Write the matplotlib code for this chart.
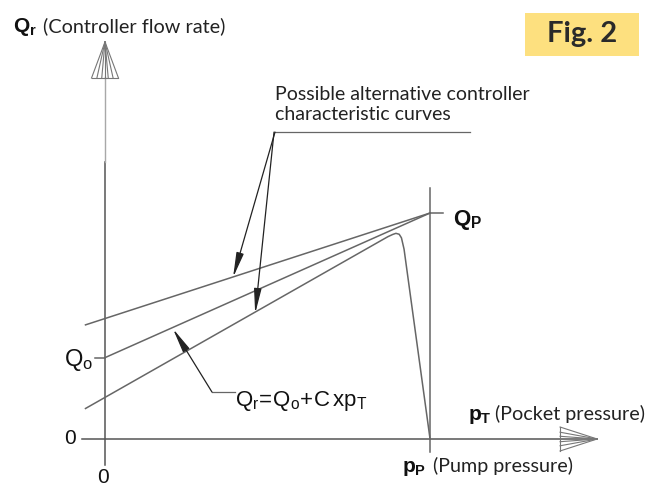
from matplotlib import pyplot as plt
from matplotlib.patches import Rectangle
import numpy as np

plt.rcParams['mathtext.fontset'] = 'custom'
plt.rcParams['mathtext.rm'] = 'Liberation Sans'
plt.rcParams['mathtext.bf'] = 'Liberation Sans:bold'
plt.rcParams['mathtext.it'] = 'Liberation Sans'

# characteristic curves (x = pocket pressure, y = flow rate; pP = 10, Qp = 10)
q0 = 3.6
top_x = [-0.6, 10]
top_y = [5.05, 10]
mid_x = [0, 10]
mid_y = [q0, 10]
bot_x = [-0.6, 8.7, 8.85, 8.95, 9.05, 9.12, 9.2, 10]
bot_y = [1.35, 8.95, 9.05, 9.1, 9.06, 8.9, 8.4, 0]

line_c = '#666666'
axis_c = '#555555'
narrow = ['Liberation Sans', 'DejaVu Sans']
humanist = ['Lato', 'DejaVu Sans']

fig = plt.figure(figsize=(6.55, 4.87), dpi=100)
ax = fig.add_axes([0, 0, 1, 1])
ax.set_xlim(-3.23, 16.92)
ax.set_ylim(-2.124, 19.425)
ax.axis('off')

# axes lines
ax.plot([-0.71, 15.14], [0, 0], color=axis_c, lw=1.1)
ax.plot([0, 0], [-1.15, 12.26], color=axis_c, lw=1.1)
ax.plot([0, 0], [12.26, 16.0], color='#a8a8a8', lw=1.0)

# y arrow head (fan of lines)
for dx in [-0.415, -0.25, -0.1, 0.1, 0.25, 0.415]:
    ax.plot([dx, 0], [15.97, 17.57], color='#777777', lw=0.8)
ax.plot([-0.415, 0.415], [15.97, 15.97], color='#777777', lw=0.8)
ax.plot([0, 0], [15.97, 17.57], color='#777777', lw=0.8)

# x arrow head
for dy in [-0.53, -0.3, -0.12, 0.12, 0.3, 0.53]:
    ax.plot([14.0, 15.14], [dy, 0], color='#777777', lw=0.8)
ax.plot([14.0, 14.0], [-0.53, 0.53], color='#777777', lw=0.8)

# pump pressure vertical and ticks
ax.plot([10, 10], [-0.575, 11.1], color=line_c, lw=1.1)
ax.plot([10, 10.4], [10, 10], color=line_c, lw=1.1)
ax.plot([-0.31, 0], [q0, q0], color=line_c, lw=1.1)

# curves
ax.plot(top_x, top_y, color=line_c, lw=1.1)
ax.plot(mid_x, mid_y, color=line_c, lw=1.1)
ax.plot(bot_x, bot_y, color=line_c, lw=1.1)

# leader for "possible alternative..." text
arr = dict(arrowstyle='-|>,head_length=1.0,head_width=0.15', color='#222222',
           lw=0.9, shrinkA=0, shrinkB=0, mutation_scale=15)
ax.plot([5.23, 11.23], [13.58, 13.58], color=line_c, lw=0.9)
ax.annotate('', xy=(3.94, 7.15), xytext=(5.23, 13.58), arrowprops=arr)
ax.annotate('', xy=(4.62, 5.55), xytext=(5.2, 13.58), arrowprops=arr)

# formula leader
ax.plot([3.29, 4.0], [2.08, 2.08], color=line_c, lw=0.9)
ax.annotate('', xy=(2.09, 4.88), xytext=(3.29, 2.08), arrowprops=arr)

# texts
ax.text(5.23, 15.0, 'Possible alternative controller', family=humanist,
        fontsize=14, color='#222222', va='baseline')
ax.text(5.23, 14.12, 'characteristic curves', family=humanist,
        fontsize=14, color='#222222', va='baseline')

ax.text(-2.83, 18.0, r'$\mathbf{Q_r}$', fontsize=15, color='#111111', va='baseline')
ax.text(-1.91, 18.0, '(Controller flow rate)', family=humanist, fontsize=14.3,
        color='#222222', va='baseline')

ax.text(11.17, 0.84, r'$\mathbf{p_T}$', fontsize=15, color='#111111', va='baseline')
ax.text(12.0, 0.84, '(Pocket pressure)', family=humanist, fontsize=14.2,
        color='#222222', va='baseline')
ax.text(9.14, -1.46, r'$\mathbf{p_P}$', fontsize=15, color='#111111', va='baseline')
ax.text(10.09, -1.46, '(Pump pressure)', family=humanist, fontsize=14.2,
        color='#222222', va='baseline')

ax.text(10.7, 9.47, r'$\mathbf{Q_P}$', fontsize=16, color='#111111', va='baseline')
ax.text(-1.26, 3.23, r'$\mathrm{Q_o}$', fontsize=17, color='#111111', va='baseline')
ax.text(4.0, 1.46, r'$\mathrm{Q_r\!=\!Q_o\!+\!C\,xp_T}$', fontsize=16,
        color='#111111', va='baseline')
ax.text(-1.08, 0, '0', family=narrow, fontsize=15, color='#111111',
        ha='center', va='center')
ax.text(-0.06, -1.72, '0', family=narrow, fontsize=15, color='#111111',
        ha='center', va='center')

# figure tag
ax.add_patch(Rectangle((12.92, 16.95), 3.51, 1.9, facecolor='#fde07f',
                       edgecolor='none'))
ax.text(14.68, 17.92, 'Fig. 2', family=humanist, fontweight='bold', fontsize=21,
        color='#2a2a2a', ha='center', va='center')

fig.savefig('out.png', dpi=100)
